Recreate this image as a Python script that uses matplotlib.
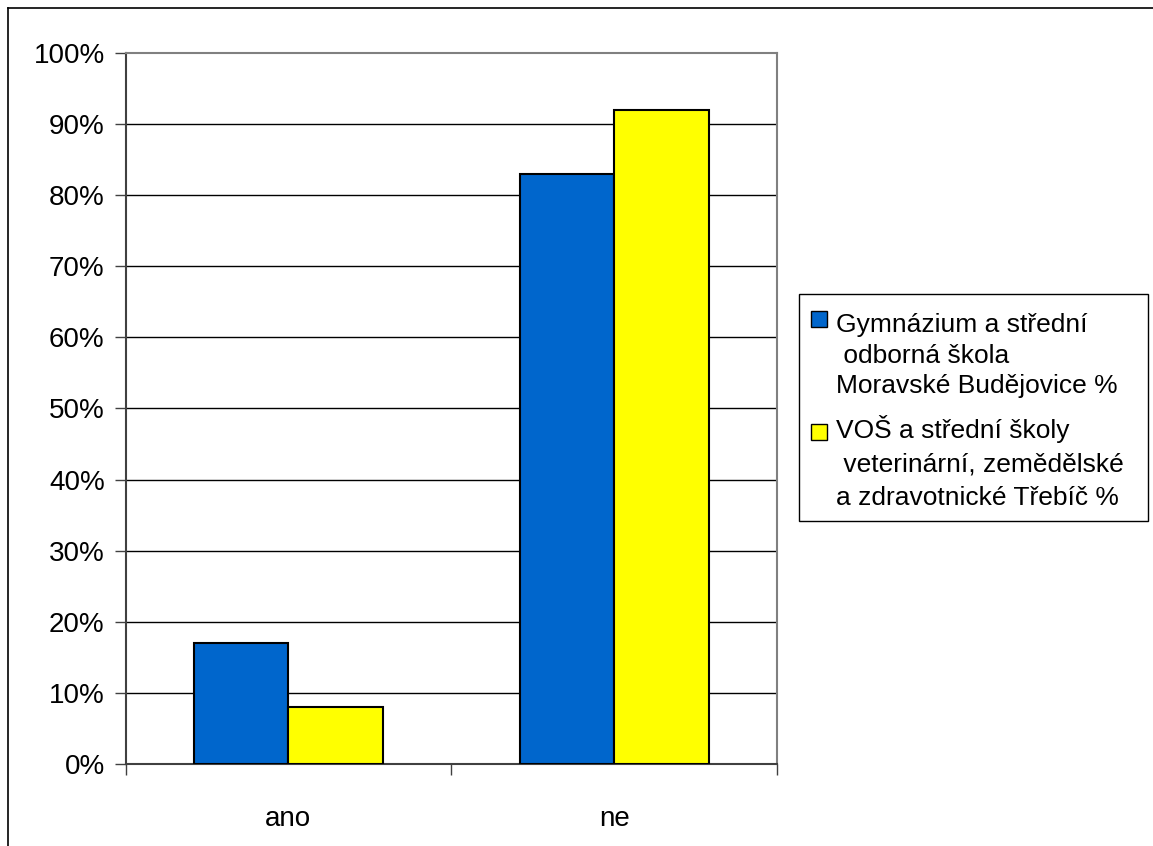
import matplotlib
matplotlib.use("Agg")
import matplotlib.pyplot as plt
from matplotlib.patches import Rectangle
from matplotlib.lines import Line2D
import numpy as np

plt.rcParams['font.family'] = ['Liberation Sans', 'DejaVu Sans']

categories = ["ano", "ne"]
series_names = [
    "Gymnázium a střední\n odborná škola\nMoravské Budějovice %",
    "VOŠ a střední školy\n veterinární, zemědělské\na zdravotnické Třebíč %",
]
gymnazium_pct = [17, 83]
vos_pct = [8, 92]
y_ticks = [0, 10, 20, 30, 40, 50, 60, 70, 80, 90, 100]
colors = ["#0066CC", "#FFFF00"]

W, H = 1153, 846
fig = plt.figure(figsize=(W / 100, H / 100), dpi=100)

# outer chart frame (top and left edges)
fig.add_artist(Line2D([8 / W, 8 / W], [0, 1 - 8 / H], color="black", lw=1.2))
fig.add_artist(Line2D([8 / W, 1], [1 - 8 / H, 1 - 8 / H], color="black", lw=1.2))

ax = fig.add_axes([125.5 / W, 1 - 764 / H, (777 - 125.5) / W, (764 - 53) / H])

x = np.arange(len(categories))
bw = 0.29
ax.bar(x - bw / 2, gymnazium_pct, bw, color=colors[0], edgecolor="black", lw=1.5, zorder=3)
ax.bar(x + bw / 2, vos_pct, bw, color=colors[1], edgecolor="black", lw=1.5, zorder=3)

ax.set_xlim(-0.5, len(categories) - 0.5)
ax.set_ylim(0, 100)

ax.set_yticks(y_ticks)
ax.set_yticklabels([f"{v}%" for v in y_ticks], fontsize=20)
ax.tick_params(axis="y", direction="out", length=8, width=1, color="#404040", pad=7)

ax.set_xticks(np.arange(-0.5, len(categories), 1.0))
ax.set_xticklabels([])
ax.tick_params(axis="x", which="major", direction="out", length=8, width=1, color="#404040")
ax.set_xticks(x, minor=True)
ax.set_xticklabels(categories, minor=True, fontsize=20)
ax.tick_params(axis="x", which="minor", length=0, pad=30)

for v in y_ticks[1:-1]:
    ax.axhline(v, color="black", lw=1.0, zorder=1)

for side in ("top", "right"):
    ax.spines[side].set_color("#808080")
    ax.spines[side].set_linewidth(1.5)
for side in ("left", "bottom"):
    ax.spines[side].set_color("#404040")
    ax.spines[side].set_linewidth(1.5)

# legend drawn in figure pixel space
def fx(px):
    return px / W

def fy(py):
    return 1 - py / H

fig.add_artist(Rectangle((fx(799), fy(521)), fx(1148) - fx(799), fy(294) - fy(521),
                         transform=fig.transFigure, facecolor="white",
                         edgecolor="black", lw=1.0))

legend_rows = [(319, 332, 30.5), (432, 438, 33.5)]
for (mark_cy, base_y, step), name, col in zip(legend_rows, series_names, colors):
    fig.add_artist(Rectangle((fx(811), fy(mark_cy + 8)), fx(16), 16 / H,
                             transform=fig.transFigure, facecolor=col,
                             edgecolor="black", lw=1.0))
    for i, line in enumerate(name.split("\n")):
        fig.text(fx(836), fy(base_y + i * step), line, fontsize=19,
                 ha="left", va="baseline")

fig.savefig("out.png", dpi=100, facecolor="white")
